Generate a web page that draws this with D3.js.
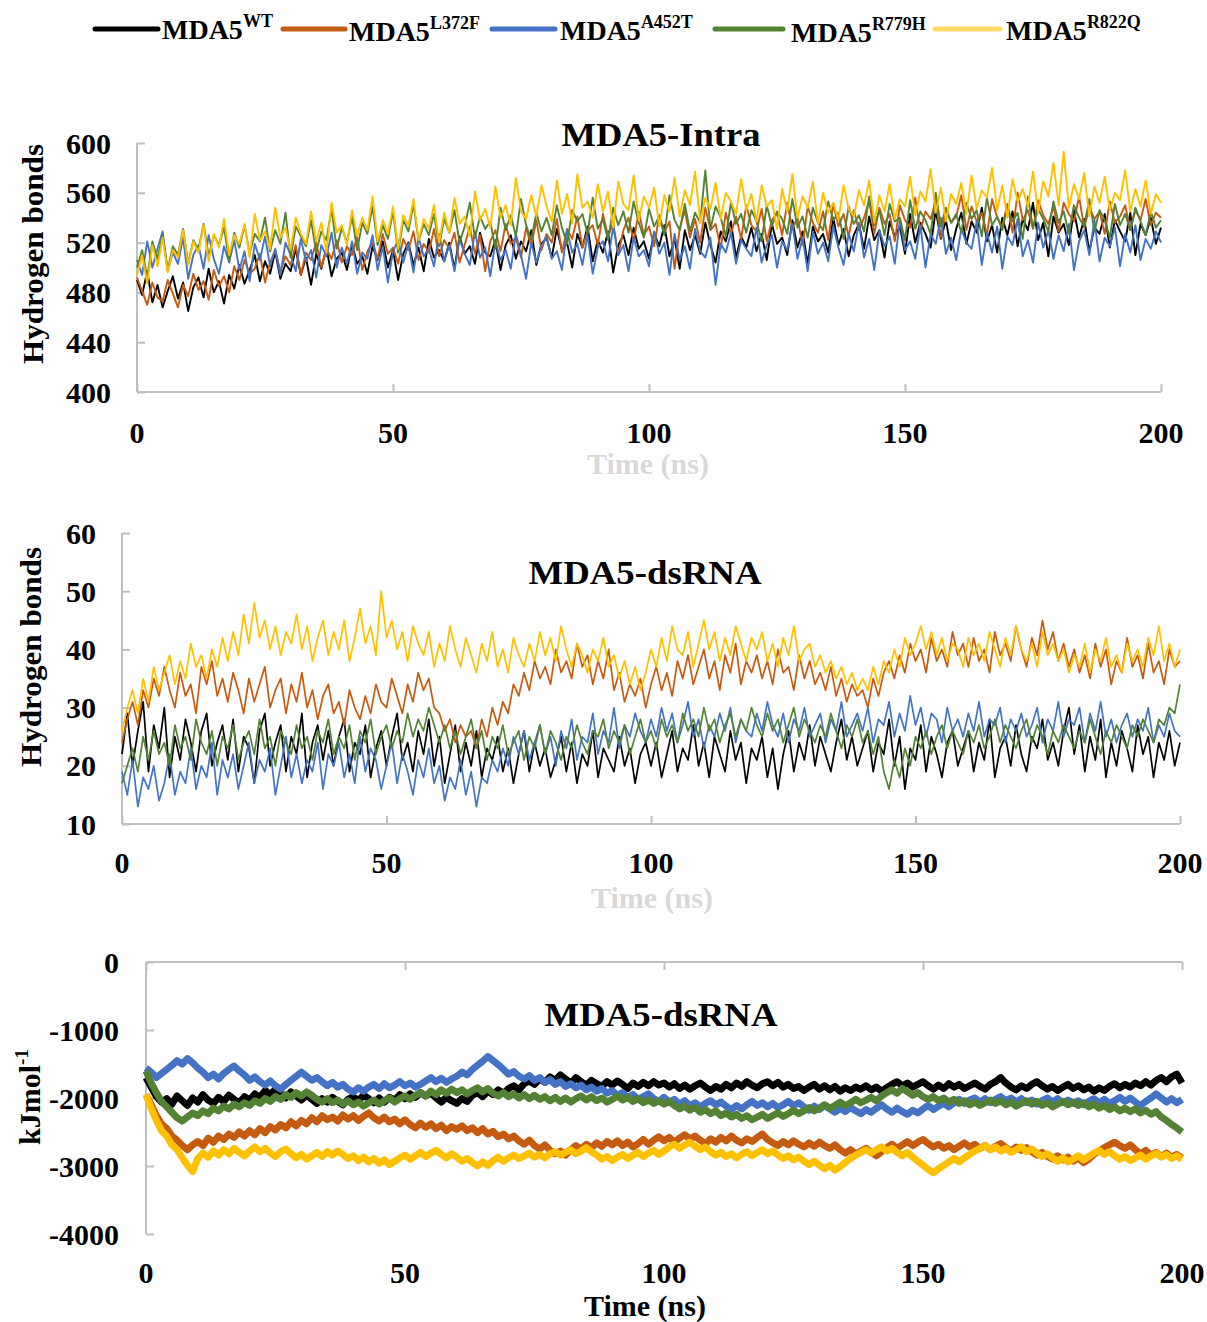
<!DOCTYPE html>
<html>
<head>
<meta charset="utf-8">
<script src="https://cdn.jsdelivr.net/npm/d3@7"></script>
<style>
  body { margin: 0; background: #fff; }
  text { font-family: "Liberation Serif", "Times New Roman", serif; font-weight: bold; }
</style>
</head>
<body>
<div id="chart"></div>
<script>
// series names and colours (legend order = drawing order)
var seriesNames = ["WT", "L372F", "A452T", "R779H", "R822Q"];
var seriesColors = ["#000000", "#C55A11", "#4472C4", "#548235", "#FFC000"];
var legendColors = ["#000000", "#C55A11", "#4472C4", "#548235", "#FFD966"];

// time grid (ns), one sample per ns
var timeNs = d3.range(0, 201, 1);
var xTicks = [0, 50, 100, 150, 200];

// ---- MDA5-Intra hydrogen bonds ----
var intraWT = [
  490,478,497,472,486,468,481,493,475,488,465,484,492,476,499,480,489,471,494,483,
  502,487,498,510,489,505,495,513,491,503,497,515,494,508,486,511,499,516,493,507,
  512,498,519,503,509,495,517,506,521,500,514,490,511,520,502,516,497,523,508,514,
  505,520,499,525,511,517,503,528,512,509,522,498,518,526,507,521,513,530,502,519,
  524,508,531,514,520,500,527,516,533,505,522,512,529,496,518,526,510,532,515,521,
  507,528,517,534,509,523,499,530,514,526,511,536,518,504,529,521,537,508,525,516,
  532,513,527,506,535,519,524,510,538,516,529,503,533,521,527,512,540,518,531,509,
  526,535,515,541,522,530,508,537,525,533,511,543,520,536,527,516,546,523,538,514,
  531,544,519,537,528,548,521,534,512,540,526,545,517,539,530,552,522,536,509,541,
  528,535,518,546,524,539,513,532,527,543,516,538,529,521,544,510,535,526,540,519,
  532];
var intraL372F = [
  492,481,470,488,476,473,490,479,468,486,477,495,482,489,474,498,485,493,480,501,
  490,506,495,499,511,488,504,514,497,509,502,518,494,512,506,520,500,515,507,522,
  504,517,510,525,498,513,520,507,527,511,516,503,523,514,529,506,519,512,531,509,
  522,515,528,504,518,533,511,526,497,521,530,513,535,519,524,508,532,517,538,514,
  527,520,539,512,531,523,541,516,529,534,518,543,525,536,510,530,540,521,545,526,
  533,517,542,528,537,499,531,546,524,539,520,548,530,535,515,544,527,541,523,550,
  534,529,547,521,538,544,526,552,531,540,518,549,536,528,545,522,551,533,543,525,
  546,530,540,554,527,548,535,543,521,550,538,532,556,529,545,539,553,524,547,536,
  541,558,530,549,537,544,526,555,540,533,551,528,560,538,546,531,554,542,535,549,
  529,552,543,537,557,532,548,539,545,527,553,536,541,550,530,546,538,555,534,544,
  540];
var intraA452T = [
  506,494,521,500,515,529,497,512,503,524,491,510,518,499,526,507,495,517,504,522,
  498,513,489,519,506,525,501,515,494,520,510,497,523,505,514,492,518,509,528,500,
  516,503,521,495,512,507,526,498,517,488,513,522,504,519,496,524,509,515,501,527,
  505,518,497,523,511,502,529,508,516,493,521,506,514,499,527,510,491,520,504,517,
  525,507,513,498,530,512,519,502,526,495,516,521,505,533,510,518,497,524,509,514,
  501,529,511,520,494,527,506,517,499,531,513,508,524,486,519,512,528,503,522,515,
  509,532,504,518,526,500,521,514,535,507,524,497,529,511,520,505,533,516,502,527,
  513,536,508,523,498,530,517,525,503,538,514,521,507,534,500,527,519,540,511,524,
  506,531,520,515,537,502,528,512,533,499,525,518,539,509,522,504,536,516,530,507,
  526,513,535,498,521,530,510,538,505,524,517,532,501,527,512,534,506,523,515,529,
  520];
var intraR779H = [
  500,514,492,521,507,526,498,517,510,531,503,522,514,535,509,526,518,532,505,528,
  516,534,511,527,521,540,513,530,519,544,508,533,525,517,538,512,529,522,547,515,
  532,520,541,514,536,527,549,518,534,523,545,512,538,529,551,521,535,526,543,517,
  539,528,546,520,533,552,524,541,531,537,515,548,530,542,525,555,534,522,544,529,
  540,526,550,532,519,546,537,543,527,556,531,539,522,548,534,545,528,553,536,524,
  547,533,541,526,558,538,530,551,529,544,536,578,531,549,540,525,552,535,543,528,
  546,537,521,550,533,545,539,527,555,532,541,524,548,536,530,553,538,544,523,549,
  535,542,529,557,534,546,526,551,537,540,522,554,531,545,538,527,560,533,548,536,
  543,528,552,539,546,525,556,534,541,530,549,537,544,523,557,532,547,539,529,553,
  536,545,527,550,540,533,555,529,546,538,524,551,534,543,530,548,537,526,545,532,
  538];
var intraR822Q = [
  494,510,487,518,501,524,496,514,508,530,502,521,512,534,505,527,516,539,510,526,
  519,535,508,543,522,529,515,548,524,532,514,540,527,519,545,521,536,512,552,528,
  534,518,546,525,540,530,557,521,538,527,549,515,542,533,555,522,539,531,550,520,
  544,528,556,535,541,525,561,538,547,532,565,540,550,534,572,545,539,558,541,566,
  549,537,570,543,559,535,575,548,553,540,567,545,561,532,569,551,546,574,538,557,
  548,564,533,558,545,572,541,562,550,577,536,556,547,568,539,560,553,543,571,546,
  559,537,566,549,554,531,563,545,575,540,557,548,569,535,560,544,552,538,566,547,
  541,562,550,570,536,558,545,567,539,555,549,573,542,561,553,579,544,564,537,559,
  551,568,543,574,547,562,556,580,546,566,540,571,553,563,549,577,544,569,557,584,
  550,593,548,567,555,576,541,565,552,573,546,560,554,578,545,563,549,570,543,559,
  552];

// ---- MDA5-dsRNA hydrogen bonds ----
var hbWT = [
  22,29,20,26,31,19,27,23,30,18,25,21,28,24,19,26,29,20,24,27,
  21,28,19,25,23,17,26,29,20,24,27,19,25,22,29,18,24,27,21,26,
  20,25,28,19,24,22,27,18,23,26,20,25,29,21,24,19,26,22,28,20,
  25,17,22,27,19,24,20,26,18,23,21,25,19,23,17,22,26,19,24,20,
  23,18,21,25,19,24,17,22,20,26,18,23,21,19,25,20,23,17,22,24,
  20,24,18,22,26,19,23,21,27,20,24,18,25,22,19,26,21,24,17,23,
  21,25,18,23,16,22,26,19,24,21,27,20,25,22,19,24,28,21,25,20,
  23,26,19,24,22,28,20,25,16,23,21,27,19,25,22,18,24,26,20,23,
  26,19,24,21,28,18,23,25,20,27,22,19,25,23,28,21,24,20,26,30,
  22,27,19,25,21,28,18,24,20,26,23,19,27,22,25,18,24,21,26,20,
  24];
var hbL372F = [
  24,28,31,27,33,30,35,32,37,33,30,36,32,34,29,37,34,38,32,35,
  31,36,33,29,35,31,34,37,30,33,35,29,34,31,36,30,33,28,32,34,
  29,31,27,33,30,28,32,29,34,31,30,35,32,29,34,31,36,33,35,30,
  29,26,28,24,27,25,26,23,28,25,30,27,31,29,34,32,36,33,38,35,
  37,34,40,36,38,35,41,37,39,34,38,35,40,33,36,31,34,32,35,30,
  34,37,33,36,32,38,35,39,34,37,40,35,38,33,39,36,41,34,38,36,
  39,35,38,34,40,36,37,33,39,35,38,34,36,33,37,32,35,31,34,32,
  33,30,35,32,36,38,35,39,36,41,38,40,36,42,38,40,37,43,39,41,
  37,42,38,40,36,43,39,41,38,44,40,37,42,39,45,40,43,38,41,37,
  40,36,39,35,41,37,40,34,38,36,42,37,39,35,41,36,38,34,40,37,
  38];
var hbA452T = [
  19,15,21,13,18,16,20,14,17,22,15,19,17,23,16,20,18,24,15,21,
  18,22,16,20,24,17,21,19,23,15,20,25,18,22,17,21,19,24,16,22,
  20,24,18,22,17,25,19,23,21,16,20,24,17,22,19,15,21,18,23,17,
  20,14,18,16,21,15,19,13,18,17,21,19,23,20,25,22,26,21,24,27,
  22,25,20,26,23,28,21,25,24,29,22,26,24,30,23,27,25,29,26,24,
  28,25,30,26,29,24,27,31,25,28,23,27,25,29,26,30,24,28,26,25,
  29,26,31,27,25,29,24,28,26,30,25,27,29,24,28,26,31,25,27,29,
  26,30,24,28,27,31,25,29,26,32,27,30,25,29,28,24,30,26,28,25,
  29,26,31,25,28,27,30,24,28,26,29,25,27,30,24,28,26,31,25,28,
  27,30,24,29,26,31,25,28,24,27,29,25,28,26,30,24,27,25,29,26,
  25];
var hbR779H = [
  17,20,23,19,25,21,26,22,24,20,27,23,25,21,28,24,22,26,20,25,
  23,27,21,24,26,22,28,23,25,20,26,24,22,27,23,25,21,26,24,28,
  22,25,23,27,21,26,24,28,22,25,27,23,26,24,29,25,28,26,30,27,
  24,27,23,26,22,25,28,23,26,21,25,23,27,22,24,26,21,25,23,27,
  22,26,24,21,25,23,27,24,22,26,25,28,23,26,24,27,22,25,28,24,
  26,23,28,25,27,24,29,26,28,25,30,26,28,24,27,29,25,28,26,30,
  27,25,29,26,28,24,27,30,25,28,26,24,27,25,29,26,23,27,25,28,
  24,26,22,25,19,16,21,18,23,20,25,23,26,22,25,27,23,26,24,22,
  26,24,27,23,25,28,24,27,25,23,26,28,24,27,25,22,26,24,27,25,
  23,26,24,28,25,22,26,24,27,25,23,27,25,28,26,24,28,27,30,29,
  34];
var hbR822Q = [
  26,30,33,29,35,31,37,33,36,39,34,38,35,41,37,39,35,40,37,42,
  38,43,39,46,41,48,42,45,40,44,39,43,41,46,40,44,38,42,45,39,
  43,40,45,38,42,47,41,44,39,50,42,45,40,43,38,44,41,39,43,37,
  41,38,44,40,37,42,39,36,41,38,43,37,40,36,42,39,37,41,38,43,
  39,42,38,44,40,37,41,39,36,40,38,42,37,39,35,38,34,37,33,36,
  40,37,42,38,44,40,39,43,37,41,45,40,43,38,42,39,44,41,38,42,
  40,43,38,41,37,42,39,44,38,40,41,37,39,36,38,35,37,34,36,33,
  35,33,37,34,38,36,40,37,42,39,41,44,40,43,39,42,38,41,40,37,
  42,39,41,38,43,40,37,42,39,44,40,38,41,37,43,39,41,38,40,36,
  39,37,41,36,40,38,42,37,39,36,41,38,40,37,42,39,44,38,41,37,
  40];

// ---- MDA5-dsRNA interaction energy (kJ/mol) ----
var enWT = [
  -1700,-1840,-1980,-2060,-2010,-2090,-1970,-2040,-2110,-2000,-2060,-1950,-2030,-2080,-1990,-2050,-1960,-2020,-2070,-1980,
  -2030,-1940,-1990,-1890,-1950,-1870,-1930,-2000,-1910,-1970,-2030,-1960,-2020,-2080,-2010,-2060,-1990,-2050,-2100,-2020,
  -1980,-2040,-1960,-2010,-2070,-2000,-2060,-1990,-2030,-1950,-2010,-1940,-1990,-1920,-1970,-1930,-2000,-2060,-1990,-2040,
  -2080,-2010,-2050,-1960,-1920,-1980,-1900,-1950,-1880,-1930,-1860,-1820,-1880,-1790,-1750,-1800,-1720,-1770,-1690,-1740,
  -1660,-1720,-1780,-1700,-1760,-1810,-1740,-1790,-1830,-1760,-1810,-1750,-1800,-1860,-1780,-1830,-1770,-1820,-1760,-1810,
  -1780,-1840,-1790,-1860,-1810,-1870,-1820,-1780,-1840,-1890,-1830,-1870,-1800,-1850,-1780,-1830,-1760,-1810,-1850,-1790,
  -1760,-1820,-1770,-1840,-1800,-1860,-1830,-1890,-1840,-1800,-1870,-1820,-1880,-1830,-1900,-1850,-1890,-1840,-1870,-1820,
  -1880,-1840,-1900,-1850,-1800,-1760,-1820,-1780,-1840,-1800,-1760,-1820,-1870,-1810,-1860,-1790,-1840,-1800,-1860,-1820,
  -1780,-1830,-1870,-1800,-1760,-1700,-1780,-1840,-1880,-1820,-1860,-1800,-1760,-1820,-1870,-1830,-1890,-1840,-1800,-1860,
  -1820,-1880,-1840,-1900,-1850,-1890,-1830,-1790,-1850,-1800,-1840,-1780,-1820,-1760,-1810,-1740,-1700,-1760,-1690,-1650,
  -1780];
var enL372F = [
  -1950,-2100,-2260,-2380,-2450,-2560,-2620,-2700,-2760,-2690,-2640,-2700,-2590,-2650,-2560,-2610,-2530,-2580,-2500,-2560,
  -2480,-2540,-2450,-2510,-2420,-2470,-2390,-2440,-2350,-2410,-2330,-2380,-2290,-2350,-2260,-2320,-2280,-2340,-2250,-2310,
  -2260,-2330,-2270,-2220,-2290,-2340,-2280,-2350,-2310,-2380,-2320,-2390,-2440,-2370,-2430,-2380,-2450,-2400,-2480,-2420,
  -2460,-2410,-2480,-2440,-2510,-2450,-2530,-2490,-2570,-2530,-2600,-2560,-2630,-2680,-2620,-2700,-2750,-2690,-2770,-2820,
  -2780,-2840,-2760,-2700,-2750,-2680,-2730,-2660,-2710,-2640,-2690,-2630,-2700,-2650,-2720,-2670,-2610,-2680,-2620,-2570,
  -2630,-2580,-2650,-2590,-2540,-2600,-2560,-2620,-2670,-2600,-2650,-2580,-2630,-2560,-2620,-2660,-2600,-2640,-2580,-2530,
  -2610,-2660,-2700,-2640,-2690,-2630,-2680,-2720,-2660,-2710,-2650,-2700,-2740,-2690,-2760,-2810,-2760,-2820,-2780,-2740,
  -2800,-2850,-2790,-2730,-2680,-2740,-2690,-2640,-2700,-2650,-2610,-2670,-2720,-2680,-2740,-2700,-2760,-2710,-2660,-2720,
  -2680,-2740,-2700,-2760,-2710,-2670,-2730,-2780,-2720,-2770,-2730,-2790,-2840,-2800,-2860,-2900,-2850,-2910,-2870,-2930,
  -2880,-2950,-2900,-2830,-2780,-2730,-2690,-2650,-2700,-2740,-2690,-2760,-2820,-2770,-2840,-2800,-2860,-2810,-2870,-2830,
  -2880];
var enA452T = [
  -1560,-1620,-1700,-1640,-1580,-1520,-1450,-1500,-1420,-1480,-1560,-1620,-1700,-1650,-1720,-1640,-1580,-1530,-1600,-1660,
  -1740,-1690,-1760,-1810,-1750,-1820,-1870,-1800,-1740,-1680,-1620,-1680,-1740,-1700,-1760,-1820,-1770,-1840,-1800,-1870,
  -1910,-1850,-1900,-1840,-1800,-1860,-1790,-1850,-1810,-1760,-1820,-1780,-1840,-1800,-1750,-1700,-1760,-1710,-1770,-1720,
  -1680,-1620,-1660,-1580,-1520,-1460,-1390,-1450,-1510,-1580,-1650,-1610,-1680,-1720,-1670,-1740,-1700,-1770,-1730,-1800,
  -1760,-1830,-1790,-1850,-1810,-1880,-1840,-1900,-1860,-1930,-1890,-1960,-1920,-1990,-1950,-2020,-1980,-1940,-2010,-2050,
  -1990,-2060,-2020,-2090,-2040,-2110,-2070,-2130,-2080,-2040,-2100,-2060,-2120,-2170,-2110,-2160,-2100,-2050,-2110,-2070,
  -2130,-2080,-2140,-2100,-2050,-2110,-2070,-2130,-2180,-2120,-2170,-2110,-2160,-2210,-2150,-2200,-2140,-2190,-2230,-2170,
  -2210,-2150,-2100,-2160,-2210,-2150,-2200,-2240,-2180,-2220,-2160,-2110,-2170,-2120,-2080,-2130,-2070,-2020,-2080,-2030,
  -2000,-2060,-2010,-2070,-2020,-1980,-2040,-2000,-2060,-2010,-2070,-2030,-2090,-2040,-2000,-2060,-2010,-2070,-2030,-2080,
  -2040,-2100,-2050,-2010,-2070,-2020,-2080,-2040,-1990,-2050,-2000,-2060,-2110,-2050,-2000,-1940,-2000,-2060,-2010,-2070,
  -2020];
var enR779H = [
  -1600,-1780,-1920,-2050,-2130,-2210,-2290,-2340,-2280,-2220,-2260,-2190,-2230,-2150,-2190,-2120,-2160,-2090,-2130,-2070,
  -2110,-2040,-2080,-2010,-2050,-1980,-2020,-1950,-1990,-1920,-1970,-1910,-1960,-2020,-2060,-2010,-2070,-2030,-2090,-2040,
  -2100,-2060,-2120,-2070,-2030,-2090,-2040,-2000,-2060,-2010,-1970,-2020,-1960,-1920,-1970,-1900,-1950,-1880,-1930,-1870,
  -1920,-1880,-1940,-1890,-1850,-1910,-1860,-1930,-1970,-1920,-1980,-1940,-2000,-1950,-2010,-1960,-2020,-1980,-2040,-1990,
  -2050,-2000,-2060,-2010,-1970,-2030,-1980,-2040,-2000,-2060,-2020,-1970,-2030,-1990,-2050,-2010,-2070,-2030,-2080,-2040,
  -2090,-2050,-2110,-2160,-2120,-2180,-2140,-2210,-2170,-2230,-2190,-2260,-2220,-2280,-2240,-2300,-2260,-2320,-2280,-2240,
  -2300,-2260,-2220,-2270,-2230,-2180,-2230,-2190,-2140,-2190,-2150,-2100,-2150,-2110,-2060,-2110,-2070,-2020,-2070,-2030,
  -1990,-2040,-1970,-1920,-1880,-1930,-1860,-1910,-1960,-1920,-1980,-2020,-1980,-2040,-2000,-2060,-2020,-2080,-2040,-2100,
  -2060,-2110,-2070,-2030,-2080,-2040,-2100,-2060,-2120,-2080,-2040,-2090,-2050,-2110,-2070,-2130,-2090,-2050,-2100,-2060,
  -2110,-2070,-2130,-2090,-2150,-2110,-2170,-2130,-2190,-2150,-2200,-2160,-2220,-2180,-2240,-2200,-2280,-2330,-2390,-2440,
  -2500];
var enR822Q = [
  -1950,-2150,-2330,-2480,-2560,-2690,-2760,-2880,-2990,-3080,-2890,-2810,-2870,-2780,-2840,-2760,-2820,-2740,-2800,-2850,
  -2780,-2720,-2790,-2740,-2810,-2860,-2790,-2750,-2820,-2880,-2830,-2900,-2850,-2800,-2860,-2790,-2840,-2780,-2830,-2890,
  -2850,-2920,-2870,-2940,-2890,-2960,-2910,-2980,-2930,-2880,-2840,-2900,-2850,-2800,-2860,-2810,-2770,-2830,-2880,-2820,
  -2870,-2930,-2890,-2950,-3000,-2940,-2990,-2920,-2870,-2930,-2880,-2840,-2890,-2850,-2810,-2870,-2830,-2880,-2820,-2790,
  -2840,-2800,-2760,-2820,-2780,-2730,-2790,-2840,-2900,-2860,-2920,-2870,-2830,-2890,-2840,-2800,-2860,-2810,-2770,-2830,
  -2780,-2720,-2680,-2740,-2690,-2650,-2710,-2760,-2720,-2790,-2840,-2800,-2860,-2820,-2880,-2830,-2790,-2850,-2800,-2760,
  -2820,-2780,-2840,-2890,-2850,-2910,-2870,-2930,-2980,-2930,-2990,-3040,-2990,-3060,-3010,-2950,-2890,-2840,-2800,-2760,
  -2810,-2760,-2720,-2780,-2740,-2800,-2850,-2800,-2870,-2930,-2990,-3050,-3100,-3040,-2990,-2940,-2890,-2940,-2880,-2830,
  -2780,-2740,-2700,-2760,-2720,-2780,-2740,-2800,-2760,-2720,-2790,-2750,-2810,-2860,-2820,-2880,-2930,-2880,-2940,-2900,
  -2850,-2910,-2860,-2810,-2770,-2830,-2790,-2850,-2900,-2860,-2920,-2880,-2840,-2900,-2850,-2810,-2870,-2830,-2890,-2850,
  -2900];

var intraTicks = [400, 440, 480, 520, 560, 600];
var hbTicks = [10, 20, 30, 40, 50, 60];
var energyTicks = [-4000, -3000, -2000, -1000, 0];

var W = 1207, H = 1322;
var axisGray = "#BFBFBF";

var svg = d3.select("#chart").append("svg")
  .attr("width", W).attr("height", H);

// legend
var legendPos = [
  {x1: 95, x2: 158, tx: 162, ty: 39},
  {x1: 283, x2: 345, tx: 349, ty: 41},
  {x1: 492, x2: 555, tx: 560, ty: 40},
  {x1: 715, x2: 783, tx: 791, ty: 42},
  {x1: 935, x2: 1000, tx: 1006, ty: 40}
];
seriesNames.forEach(function(name, i) {
  var p = legendPos[i];
  svg.append("line")
    .attr("x1", p.x1).attr("x2", p.x2).attr("y1", 29).attr("y2", 29)
    .attr("stroke", legendColors[i]).attr("stroke-width", 5)
    .attr("stroke-linecap", "round");
  var t = svg.append("text").attr("x", p.tx).attr("y", p.ty)
    .style("font-size", "28px").attr("fill", "#000");
  t.append("tspan").text("MDA5");
  t.append("tspan").text(name).style("font-size", "18px").attr("dy", -12);
});

function drawPanel(cfg) {
  var x = d3.scaleLinear().domain([0, 200]).range([cfg.left, cfg.right]);
  var y = d3.scaleLinear().domain(cfg.yDomain).range([cfg.bottom, cfg.top]);
  var g = svg.append("g");

  // y axis (ticks inside)
  g.append("g")
    .attr("transform", "translate(" + cfg.left + ",0)")
    .call(d3.axisRight(y).tickValues(cfg.yTicks).tickSize(8).tickFormat(""))
    .call(function(a) {
      a.select(".domain").attr("stroke", axisGray).attr("stroke-width", 2)
        .attr("d", "M0," + cfg.top + "V" + cfg.bottom);
      a.selectAll(".tick line").attr("stroke", axisGray).attr("stroke-width", 2);
    });

  // x axis line at the y-position given by xAxisAt
  var xAxisY = y(cfg.xAxisAt);
  var xAxis = cfg.xAxisAt === cfg.yDomain[0] ? d3.axisTop(x) : d3.axisBottom(x);
  g.append("g")
    .attr("transform", "translate(0," + xAxisY + ")")
    .call(xAxis.tickValues(xTicks).tickSize(8).tickFormat(""))
    .call(function(a) {
      a.select(".domain").attr("stroke", axisGray).attr("stroke-width", 2)
        .attr("d", "M" + cfg.left + ",0H" + cfg.right);
      a.selectAll(".tick line").attr("stroke", axisGray).attr("stroke-width", 2);
    });

  // tick labels
  g.selectAll(".ylab").data(cfg.yTicks).enter().append("text")
    .attr("x", cfg.yLabelX).attr("y", function(d) { return y(d); })
    .attr("dy", "0.35em").attr("text-anchor", "end")
    .style("font-size", "30px").text(function(d) { return d; });
  g.selectAll(".xlab").data(xTicks).enter().append("text")
    .attr("x", function(d) { return x(d); }).attr("y", cfg.xLabelY)
    .attr("dy", "0.35em").attr("text-anchor", "middle")
    .style("font-size", "30px").text(function(d) { return d; });

  // series
  var line = d3.line()
    .x(function(d, i) { return x(timeNs[i]); })
    .y(function(d) { return y(d); });
  cfg.series.forEach(function(s, i) {
    g.append("path").datum(s)
      .attr("fill", "none").attr("stroke", seriesColors[i])
      .attr("stroke-width", cfg.lineWidth).attr("stroke-linejoin", "round")
      .attr("d", line);
  });

  // panel title
  g.append("text").attr("x", cfg.titleX).attr("y", cfg.titleY)
    .attr("text-anchor", "middle").style("font-size", "33px")
    .attr("textLength", cfg.titleLen).attr("lengthAdjust", "spacingAndGlyphs")
    .text(cfg.title);

  // x axis title
  g.append("text").attr("x", cfg.xTitleX).attr("y", cfg.xTitleY)
    .attr("text-anchor", "middle").style("font-size", "30px")
    .attr("fill", cfg.xTitleColor).text("Time (ns)");

  // y axis title
  var yt = g.append("text")
    .attr("transform", "translate(" + cfg.yTitleX + "," + cfg.yTitleY + ") rotate(-90)")
    .attr("text-anchor", "middle").style("font-size", "30px");
  if (cfg.yTitleSup) {
    yt.append("tspan").text(cfg.yTitle);
    yt.append("tspan").text(cfg.yTitleSup).style("font-size", "19px").attr("dy", -12);
  } else {
    yt.attr("textLength", 220).attr("lengthAdjust", "spacingAndGlyphs").text(cfg.yTitle);
  }
}

drawPanel({
  left: 137, right: 1161, top: 143, bottom: 392,
  yDomain: [400, 600], yTicks: intraTicks, xAxisAt: 400,
  yLabelX: 111, xLabelY: 432,
  series: [intraWT, intraL372F, intraA452T, intraR779H, intraR822Q], lineWidth: 1.9,
  title: "MDA5-Intra", titleX: 661, titleY: 146, titleLen: 199,
  xTitleX: 648, xTitleY: 474, xTitleColor: "#D9D9D9",
  yTitle: "Hydrogen bonds", yTitleX: 43, yTitleY: 254
});

drawPanel({
  left: 122, right: 1180, top: 533, bottom: 824,
  yDomain: [10, 60], yTicks: hbTicks, xAxisAt: 10,
  yLabelX: 96, xLabelY: 862,
  series: [hbWT, hbL372F, hbA452T, hbR779H, hbR822Q], lineWidth: 1.7,
  title: "MDA5-dsRNA", titleX: 645, titleY: 584, titleLen: 233,
  xTitleX: 652, xTitleY: 908, xTitleColor: "#D9D9D9",
  yTitle: "Hydrogen bonds", yTitleX: 41, yTitleY: 657
});

drawPanel({
  left: 146, right: 1182, top: 962, bottom: 1234,
  yDomain: [-4000, 0], yTicks: energyTicks, xAxisAt: 0,
  yLabelX: 119, xLabelY: 1272,
  series: [enWT, enL372F, enA452T, enR779H, enR822Q], lineWidth: 7,
  title: "MDA5-dsRNA", titleX: 661, titleY: 1026, titleLen: 233,
  xTitleX: 645, xTitleY: 1316, xTitleColor: "#000000",
  yTitle: "kJmol", yTitleSup: "-1", yTitleX: 40, yTitleY: 1097
});
</script>
</body>
</html>
